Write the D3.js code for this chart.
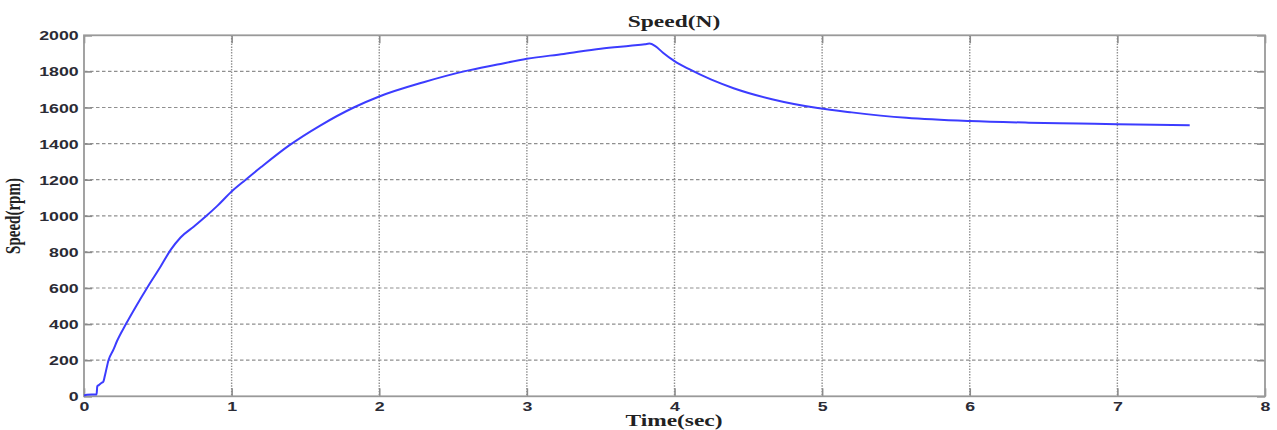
<!DOCTYPE html>
<html><head><meta charset="utf-8">
<script src="https://cdn.jsdelivr.net/npm/d3@7"></script>
<style>html,body{margin:0;padding:0;background:#fff;}svg{display:block;}</style>
</head><body>
<svg id="chart" width="1277" height="430"></svg>
<script>
const timeSec = [0, 0.02, 0.05, 0.085, 0.09, 0.1, 0.12, 0.13, 0.143, 0.166, 0.2, 0.223, 0.284, 0.35, 0.427, 0.519, 0.587, 0.654, 0.745, 0.824, 0.903, 1.0, 1.095, 1.2, 1.39, 1.6, 1.827, 2.0, 2.3, 2.574, 2.8, 3.0, 3.25, 3.5, 3.7, 3.8, 3.83, 3.87, 3.92, 4.0, 4.1, 4.25, 4.4, 4.66, 4.97, 5.2, 5.57, 6.0, 6.4, 6.74, 7.0, 7.25, 7.49];
const speedRpm = [5, 8, 10, 10, 55, 62, 75, 80, 120, 200, 260, 305, 400, 495, 600, 719, 811, 880, 941, 996, 1055, 1135, 1200, 1270, 1390, 1500, 1600, 1661, 1740, 1800, 1838, 1870, 1897, 1926, 1942, 1950, 1954, 1940, 1905, 1857, 1812, 1754, 1707, 1646, 1597, 1573, 1543, 1525, 1516, 1511, 1507, 1504, 1502];
const xTicks = [0, 1, 2, 3, 4, 5, 6, 7, 8];
const yTicks = [0, 200, 400, 600, 800, 1000, 1200, 1400, 1600, 1800, 2000];
const titleText = "Speed(N)";
const xLabel = "Time(sec)";
const yLabel = "Speed(rpm)";

const svg = d3.select("#chart");
const L = 84, R = 1265, T = 35.3, B = 396.3;
const sx = 1.42; // horizontal stretch of the reference figure
const x = d3.scaleLinear().domain([0, 8]).range([L, R]);
const y = d3.scaleLinear().domain([0, 2000]).range([B, T]);

const gridCol = "#8f8f8f";
// vertical dotted grid
svg.append("g").selectAll("line").data(xTicks.filter(d => d > 0 && d < 8)).join("line")
  .attr("x1", d => x(d)).attr("x2", d => x(d)).attr("y1", T).attr("y2", B)
  .attr("stroke", gridCol).attr("stroke-width", 1.4).attr("stroke-dasharray", "1.4,1.4");
// horizontal dashed grid
svg.append("g").selectAll("line").data(yTicks.filter(d => d > 0 && d < 2000)).join("line")
  .attr("x1", L).attr("x2", R).attr("y1", d => y(d)).attr("y2", d => y(d))
  .attr("stroke", gridCol).attr("stroke-width", 1.2).attr("stroke-dasharray", "3.5,2.5");

// axes with inner ticks on all sides
const tickCol = "#8a8a8a";
const fmtLabels = g => {
  g.select(".domain").remove();
  g.selectAll(".tick line").attr("stroke", tickCol).attr("stroke-width", 1.6);
};
const xb = svg.append("g").attr("transform", `translate(0,${B})`)
  .call(d3.axisBottom(x).tickValues(xTicks).tickSize(-8).tickPadding(0).tickFormat(d3.format("d")));
fmtLabels(xb);
xb.selectAll(".tick text").attr("y", 0).attr("dy", "14.5").attr("transform", `scale(${sx},1)`)
  .attr("font-family", "'Liberation Sans', Arial, sans-serif").attr("font-weight", "bold")
  .attr("font-size", 12.5).attr("fill", "#2b2b35");
const xt = svg.append("g").attr("transform", `translate(0,${T})`)
  .call(d3.axisTop(x).tickValues(xTicks).tickSize(-8).tickFormat(""));
fmtLabels(xt);
const yl = svg.append("g").attr("transform", `translate(${L},0)`)
  .call(d3.axisLeft(y).tickValues(yTicks).tickSize(-8).tickPadding(0).tickFormat(d3.format("d")));
fmtLabels(yl);
yl.selectAll(".tick text").attr("x", -5.3 / sx).attr("dy", "0.36em").attr("transform", `scale(${sx},1)`)
  .attr("font-family", "'Liberation Sans', Arial, sans-serif").attr("font-weight", "bold")
  .attr("font-size", 12.5).attr("fill", "#2b2b35");
const yr = svg.append("g").attr("transform", `translate(${R},0)`)
  .call(d3.axisRight(y).tickValues(yTicks).tickSize(-8).tickFormat(""));
fmtLabels(yr);

// box
svg.append("rect").attr("x", L).attr("y", T).attr("width", R - L).attr("height", B - T)
  .attr("fill", "none").attr("stroke", "#999").attr("stroke-width", 1.8);

// data line
const line = d3.line().x((d, i) => x(timeSec[i])).y(d => y(d)).curve(d3.curveMonotoneX);
svg.append("path").datum(speedRpm).attr("d", line)
  .attr("fill", "none").attr("stroke", "#3c3cff").attr("stroke-width", 2)
  .attr("stroke-linejoin", "round");

// title and labels
const serif = "'Liberation Serif', 'Times New Roman', serif";
svg.append("text").attr("transform", `translate(674,27) scale(${sx},1)`)
  .attr("text-anchor", "middle").attr("font-family", serif).attr("font-weight", "bold")
  .attr("font-size", 16.5).attr("fill", "#222").text(titleText);
svg.append("text").attr("transform", `translate(674,426) scale(${sx},1)`)
  .attr("text-anchor", "middle").attr("font-family", serif).attr("font-weight", "bold")
  .attr("font-size", 16.5).attr("fill", "#222").text(xLabel);
svg.append("text").attr("transform", `translate(19.5,216) scale(${sx},1) rotate(-90)`)
  .attr("text-anchor", "middle").attr("font-family", serif).attr("font-weight", "bold")
  .attr("font-size", 15).attr("fill", "#222").text(yLabel);
</script>
</body></html>
